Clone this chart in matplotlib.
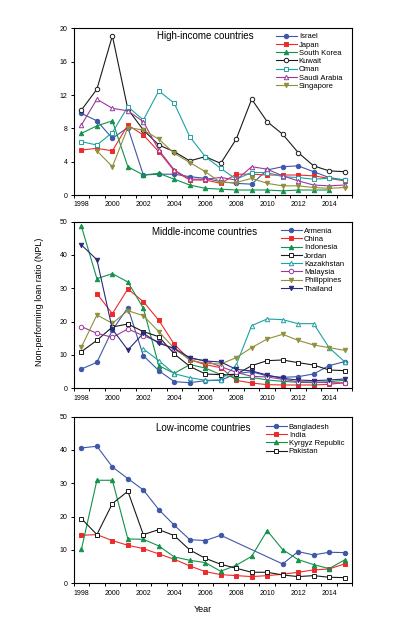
import numpy as np
import matplotlib
matplotlib.use('Agg')
import matplotlib.pyplot as plt

plt.rcParams['font.family'] = ['Liberation Sans', 'DejaVu Sans']

years = list(range(1998, 2016))

# high-income
high_names = ['Israel', 'Japan', 'South Korea', 'Kuwait', 'Oman', 'Saudi Arabia', 'Singapore']
israel = [9.8, 8.9, 6.8, 8.1, 2.4, 2.5, 2.5, 2.2, 2.0, 1.6, 1.4, 1.3, 3.0, 3.4, 3.5, 2.8, 2.1, 1.8]
japan = [5.4, 5.6, 5.3, 8.4, 7.2, 5.2, 2.9, 1.8, 1.8, 1.4, 2.5, 2.5, 2.4, 2.4, 2.4, 2.3, 2.0, 1.7]
south_korea = [7.4, 8.3, 8.9, 3.4, 2.4, 2.6, 1.9, 1.2, 0.8, 0.7, 0.6, 0.6, 0.6, 0.5, 0.6, 0.6, 0.6, None]
kuwait = [10.2, 12.7, 19.1, 10.3, 7.8, 6.0, 5.2, 4.1, 4.6, 3.8, 6.7, 11.5, 8.8, 7.3, 5.1, 3.5, 2.9, 2.8]
oman = [6.4, 6.0, 7.5, 10.6, 9.0, 12.5, 11.0, 7.0, 4.6, 3.2, 1.9, 2.7, 2.7, 2.2, 2.1, 1.9, 2.0, 1.8]
saudi_arabia = [8.4, 11.5, 10.4, 10.1, 8.8, 5.4, 3.0, 1.9, 1.9, 2.1, 1.8, 3.4, 3.1, 2.3, 1.7, 1.2, 1.1, 1.2]
singapore = [None, 5.3, 3.4, 8.1, 7.8, 6.7, 5.0, 3.9, 2.8, 1.5, 1.5, 2.0, 1.4, 1.1, 1.1, 0.9, 0.8, 0.9]

# middle-income
mid_names = ['Armenia', 'China', 'Indonesia', 'Jordan', 'Kazakhstan', 'Malaysia', 'Philippines', 'Thailand']
armenia = [5.8, 7.8, 17.5, 24.2, 9.8, 5.3, 2.0, 1.7, 2.3, 2.4, 4.4, 5.0, 3.7, 3.3, 3.5, 4.3, 6.8, 8.0]
china = [None, 28.4, 22.4, 29.8, 26.0, 20.4, 13.2, 8.6, 7.1, 6.2, 2.4, 1.6, 1.1, 1.0, 1.0, 1.0, 1.2, 1.7]
indonesia = [48.6, 32.9, 34.4, 31.9, 24.0, 6.8, 4.5, 7.1, 6.1, 4.1, 3.2, 3.3, 2.5, 2.1, 1.8, 1.7, 2.0, 2.4]
jordan = [11.0, 14.4, 18.4, 19.3, 17.0, 15.5, 10.3, 6.6, 4.3, 4.1, 4.2, 6.8, 8.3, 8.5, 7.7, 7.0, 5.5, 5.3]
kazakhstan = [None, None, None, None, 11.8, 8.3, 4.4, 3.2, 2.4, 2.5, 7.0, 18.8, 20.8, 20.6, 19.4, 19.4, 12.2, 8.0]
malaysia = [18.5, 16.5, 15.3, 17.8, 15.8, 13.9, 11.7, 9.0, 8.3, 6.5, 4.8, 3.6, 3.4, 2.7, 2.0, 1.9, 1.7, 1.6]
philippines = [12.4, 22.0, 19.5, 23.3, 21.8, 17.0, 12.0, 8.5, 7.5, 7.3, 9.2, 12.2, 14.8, 16.2, 14.4, 13.0, 12.2, 11.4]
thailand = [43.0, 38.6, 17.7, 11.5, 16.5, 13.5, 12.0, 9.2, 8.2, 7.9, 5.7, 5.2, 4.0, 3.0, 2.5, 2.3, 2.5, 2.8]

# low-income
low_names = ['Bangladesh', 'India', 'Kyrgyz Republic', 'Pakistan']
bangladesh = [40.6, 41.1, 34.9, 31.4, 28.0, 22.1, 17.4, 13.1, 12.8, 14.4, None, None, None, 5.8, 9.5, 8.5, 9.3, 9.2]
india = [14.4, 14.6, 12.8, 11.4, 10.4, 8.8, 7.2, 5.2, 3.5, 2.6, 2.3, 2.0, 2.3, 2.7, 3.3, 4.0, 4.3, 5.8]
kyrgyz = [10.2, 30.9, 30.9, 13.3, 13.2, 11.2, 7.9, 6.9, 6.2, 3.6, 5.4, 8.1, 15.8, 10.1, 7.1, 5.6, 4.4, 7.0]
pakistan = [19.4, 14.6, 23.9, 27.6, 14.6, 16.1, 14.3, 10.0, 7.5, 5.7, 4.5, 3.3, 3.3, 2.5, 2.0, 2.3, 1.8, 1.7]

BLUE = '#3f57a8'
RED = '#ee2a2a'
GREEN = '#12924a'
BLACK = '#1a1a1a'
TEAL = '#1ea2a2'
PURPLE = '#9a3a9c'
OLIVE = '#8f8f3f'
NAVY = '#2a2a7a'

# (color, marker, filled)
high_style = [(BLUE, 'o', True), (RED, 's', True), (GREEN, '^', True), (BLACK, 'o', False),
              (TEAL, 's', False), (PURPLE, '^', False), (OLIVE, 'v', True)]
mid_style = [(BLUE, 'o', True), (RED, 's', True), (GREEN, '^', True), (BLACK, 's', False),
             (TEAL, '^', False), (PURPLE, 'o', False), (OLIVE, 'v', True), (NAVY, 'v', True)]
low_style = [(BLUE, 'o', True), (RED, 's', True), (GREEN, '^', True), (BLACK, 's', False)]


def draw_panel(ax, series, names, styles, ymax, ystep, title, title_pos, leg_anchor):
    for vals, name, (c, m, filled) in zip(series, names, styles):
        x = [yr for yr, v in zip(years, vals) if v is not None]
        y = [v for v in vals if v is not None]
        ax.plot(x, y, color=c, marker=m, markersize=3.2, linewidth=0.8,
                markerfacecolor=c if filled else 'white', markeredgecolor=c,
                markeredgewidth=0.7, label=name)
    ax.set_xlim(1997.5, 2015.5)
    ax.set_ylim(0, ymax)
    ax.set_yticks(np.arange(0, ymax + 1, ystep))
    ax.set_xticks(range(1998, 2015, 2))
    ax.set_xticks(np.arange(1997.5, 2016, 1), minor=True)
    ax.tick_params(axis='x', which='major', length=0, pad=4.5, labelsize=5)
    ax.tick_params(axis='x', which='minor', length=2.5, width=0.7, direction='out')
    ax.tick_params(axis='y', length=2.5, width=0.7, direction='out', labelsize=5, pad=2)
    for s in ax.spines.values():
        s.set_linewidth(0.8)
    ax.text(title_pos[0], title_pos[1], title, transform=ax.transAxes, fontsize=7,
            va='center', ha='left')
    ax.legend(loc='upper left', bbox_to_anchor=leg_anchor, frameon=False, fontsize=5.5,
              handlelength=2.7, handletextpad=0.3, labelspacing=0.12, borderpad=0,
              borderaxespad=0)


fig = plt.figure(figsize=(3.93, 6.34), dpi=100)
ax1 = fig.add_axes([0.1875, 0.6924, 0.7089, 0.2629])
ax2 = fig.add_axes([0.1875, 0.3875, 0.7089, 0.2629])
ax3 = fig.add_axes([0.1875, 0.0800, 0.7089, 0.2629])

draw_panel(ax1, [israel, japan, south_korea, kuwait, oman, saudi_arabia, singapore],
           high_names, high_style, 20, 4, 'High-income countries', (0.30, 0.952), (0.726, 0.972))
draw_panel(ax2, [armenia, china, indonesia, jordan, kazakhstan, malaysia, philippines, thailand],
           mid_names, mid_style, 50, 10, 'Middle-income countries', (0.28, 0.94), (0.744, 0.965))
draw_panel(ax3, [bangladesh, india, kyrgyz, pakistan],
           low_names, low_style, 50, 10, 'Low-income countries', (0.294, 0.934), (0.690, 0.96))

fig.text(40 / 393, 1 - 302 / 634, 'Non-performing loan ratio (NPL)', rotation=90,
         fontsize=6.5, ha='center', va='center')
fig.text(203 / 393, 1 - 610 / 634, 'Year', fontsize=6.5, ha='center', va='center')

fig.savefig('out.png', dpi=100)
